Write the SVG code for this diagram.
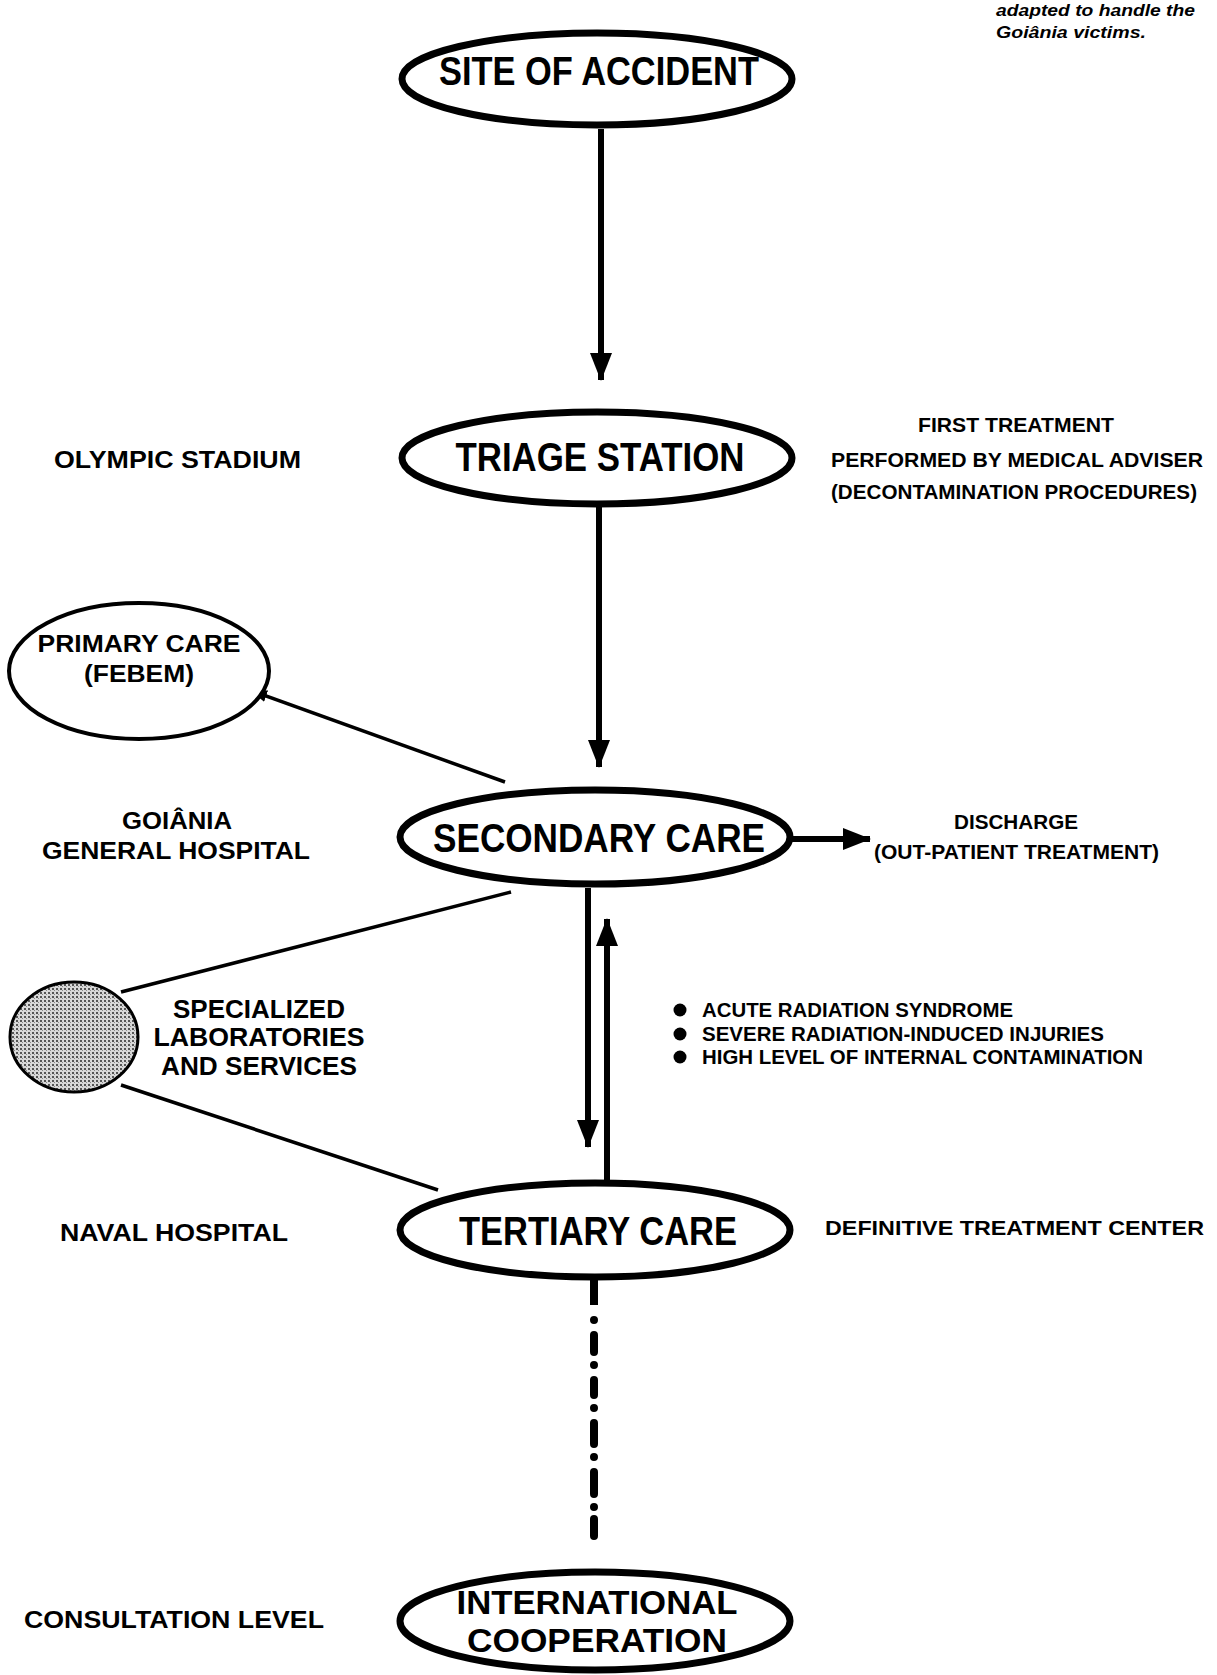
<svg xmlns="http://www.w3.org/2000/svg" width="1217" height="1675" viewBox="0 0 1217 1675">
<style>
.bg{fill:#fff}
.node{fill:#fff;stroke:#000;stroke-width:7}
.thin{fill:#fff;stroke:#000;stroke-width:4}
.big{font-family:"Liberation Sans",Arial,sans-serif;font-weight:bold;font-size:40px;fill:#000;text-anchor:middle}
.big2{font-family:"Liberation Sans",Arial,sans-serif;font-weight:bold;font-size:33px;fill:#000;text-anchor:middle}
.lbl{font-family:"Liberation Sans",Arial,sans-serif;font-weight:bold;font-size:24px;fill:#000}
.lbl2{font-family:"Liberation Sans",Arial,sans-serif;font-weight:bold;font-size:26px;fill:#000;text-anchor:middle}
.mid{text-anchor:middle}
.sm{font-family:"Liberation Sans",Arial,sans-serif;font-weight:bold;font-size:21px;fill:#000}
.cap{font-family:"Liberation Sans",Arial,sans-serif;font-weight:bold;font-style:italic;font-size:16px;fill:#000}
.arr{stroke:#000;stroke-width:6;fill:none}
.ln{stroke:#000;stroke-width:3.5;fill:none}
</style>
<defs>
<marker id="ah" markerUnits="userSpaceOnUse" markerWidth="28" markerHeight="22" refX="27" refY="11" orient="auto" viewBox="0 0 28 22">
<path d="M0,0 L28,11 L0,22 Z" fill="#000"/>
</marker>
<marker id="ahs" markerUnits="userSpaceOnUse" markerWidth="16" markerHeight="12" refX="15" refY="6" orient="auto" viewBox="0 0 16 12">
<path d="M0,0 L16,6 L0,12 Z" fill="#000"/>
</marker>
<pattern id="stip" width="4" height="4" patternUnits="userSpaceOnUse">
<rect width="4" height="4" fill="#d8d8d8"/>
<rect x="0" y="0" width="2" height="2" fill="#555"/>
<rect x="2" y="2" width="1" height="1" fill="#888"/>
</pattern>
</defs>
<rect class="bg" width="1217" height="1675"/>

<g id="caption">
<text class="cap" x="996" y="16" textLength="199" lengthAdjust="spacingAndGlyphs">adapted to handle the</text>
<text class="cap" x="996" y="38" textLength="150" lengthAdjust="spacingAndGlyphs">Goiânia victims.</text>
</g>

<g id="connectors">
<line class="arr" x1="601" y1="129" x2="601" y2="380" marker-end="url(#ah)"/>
<line class="arr" x1="599" y1="507" x2="599" y2="767" marker-end="url(#ah)"/>
<line class="arr" x1="792" y1="839" x2="870" y2="839" marker-end="url(#ah)"/>
<line class="arr" x1="588" y1="888" x2="588" y2="1147" stroke-width="7" marker-end="url(#ah)"/>
<line class="arr" x1="607" y1="1180" x2="607" y2="919" stroke-width="7" marker-end="url(#ah)"/>
<line class="ln" x1="505" y1="782" x2="252" y2="691" marker-end="url(#ahs)"/>
<line class="ln" x1="511" y1="892" x2="121" y2="992"/>
<line class="ln" x1="438" y1="1190" x2="121" y2="1085"/>
<line x1="594" y1="1278" x2="594" y2="1305" stroke="#000" stroke-width="8"/>
<line x1="594" y1="1320" x2="594" y2="1545" stroke="#000" stroke-width="8" stroke-linecap="round" stroke-dasharray="0 15 17 13 0 15 15 13 0 15 21 13 0 15 22 13 0 12 17 14"/>
</g>

<g id="site">
<ellipse class="node" cx="597" cy="79" rx="195" ry="46"/>
<text class="big" x="599" y="85" textLength="320" lengthAdjust="spacingAndGlyphs">SITE OF ACCIDENT</text>
</g>

<g id="triage">
<ellipse class="node" cx="597" cy="458" rx="195" ry="46"/>
<text class="big" x="600" y="471" textLength="289" lengthAdjust="spacingAndGlyphs">TRIAGE STATION</text>
</g>

<g id="secondary">
<ellipse class="node" cx="595" cy="837" rx="195" ry="47"/>
<text class="big" x="599" y="852" textLength="332" lengthAdjust="spacingAndGlyphs">SECONDARY CARE</text>
</g>

<g id="primary">
<ellipse class="thin" cx="139" cy="671" rx="130" ry="68"/>
<text class="lbl mid" x="139" y="652" textLength="203" lengthAdjust="spacingAndGlyphs">PRIMARY CARE</text>
<text class="lbl mid" x="139" y="682" textLength="110" lengthAdjust="spacingAndGlyphs">(FEBEM)</text>
</g>

<g id="labs">
<ellipse cx="74" cy="1037" rx="64" ry="55" fill="url(#stip)" stroke="#000" stroke-width="3"/>
<text class="lbl2" x="259" y="1018" textLength="172" lengthAdjust="spacingAndGlyphs">SPECIALIZED</text>
<text class="lbl2" x="259" y="1046" textLength="211" lengthAdjust="spacingAndGlyphs">LABORATORIES</text>
<text class="lbl2" x="259" y="1075" textLength="196" lengthAdjust="spacingAndGlyphs">AND SERVICES</text>
</g>

<g id="tertiary">
<ellipse class="node" cx="595" cy="1230" rx="195" ry="47"/>
<text class="big" x="598" y="1245" textLength="278" lengthAdjust="spacingAndGlyphs">TERTIARY CARE</text>
</g>

<g id="international">
<ellipse class="node" cx="595" cy="1621" rx="195" ry="49"/>
<text class="big2" x="597" y="1614" textLength="281" lengthAdjust="spacingAndGlyphs">INTERNATIONAL</text>
<text class="big2" x="597" y="1652" textLength="260" lengthAdjust="spacingAndGlyphs">COOPERATION</text>
</g>

<g id="left-labels">
<text class="lbl" x="54" y="468" textLength="247" lengthAdjust="spacingAndGlyphs">OLYMPIC STADIUM</text>
<text class="lbl mid" x="177" y="829" textLength="110" lengthAdjust="spacingAndGlyphs">GOIÂNIA</text>
<text class="lbl" x="42" y="859" textLength="268" lengthAdjust="spacingAndGlyphs">GENERAL HOSPITAL</text>
<text class="lbl" x="60" y="1241" textLength="228" lengthAdjust="spacingAndGlyphs">NAVAL HOSPITAL</text>
<text class="lbl" x="24" y="1628" textLength="300" lengthAdjust="spacingAndGlyphs">CONSULTATION LEVEL</text>
</g>

<g id="right-labels">
<text class="sm mid" x="1016" y="432" textLength="196" lengthAdjust="spacingAndGlyphs">FIRST TREATMENT</text>
<text class="sm" x="831" y="467" textLength="372" lengthAdjust="spacingAndGlyphs">PERFORMED BY MEDICAL ADVISER</text>
<text class="sm" x="831" y="499" textLength="366" lengthAdjust="spacingAndGlyphs" style="font-weight:600">(DECONTAMINATION PROCEDURES)</text>
<text class="sm mid" x="1016" y="829" textLength="124" lengthAdjust="spacingAndGlyphs">DISCHARGE</text>
<text class="sm" x="874" y="859" textLength="285" lengthAdjust="spacingAndGlyphs">(OUT-PATIENT TREATMENT)</text>
<text class="sm" x="825" y="1235" textLength="379" lengthAdjust="spacingAndGlyphs">DEFINITIVE TREATMENT CENTER</text>
</g>

<g id="criteria">
<circle cx="680" cy="1010" r="6.5" fill="#000"/>
<circle cx="680" cy="1034" r="6.5" fill="#000"/>
<circle cx="680" cy="1057" r="6.5" fill="#000"/>
<text class="sm" x="702" y="1017" textLength="311" lengthAdjust="spacingAndGlyphs">ACUTE RADIATION SYNDROME</text>
<text class="sm" x="702" y="1041" textLength="402" lengthAdjust="spacingAndGlyphs">SEVERE RADIATION-INDUCED INJURIES</text>
<text class="sm" x="702" y="1064" textLength="441" lengthAdjust="spacingAndGlyphs">HIGH LEVEL OF INTERNAL CONTAMINATION</text>
</g>
</svg>
